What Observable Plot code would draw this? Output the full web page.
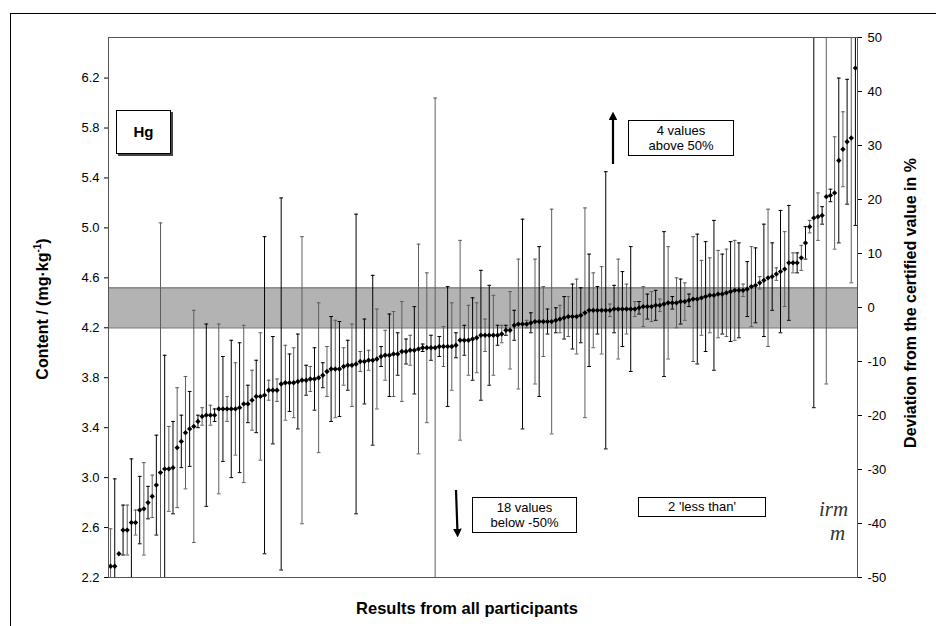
<!DOCTYPE html>
<html><head><meta charset="utf-8">
<script src="https://cdn.jsdelivr.net/npm/d3@7"></script>
<script src="https://cdn.jsdelivr.net/npm/@observablehq/plot@0.6"></script>
<style>
body{margin:0;background:#fff;font-family:"Liberation Sans",Arial,sans-serif;color:#000;}
#wrap{position:relative;width:936px;height:626px;overflow:hidden;}
#chart{position:absolute;left:0;top:0;}
#border{position:absolute;left:10px;top:13px;width:960px;height:660px;border-left:1.5px solid #000;border-top:1.5px solid #000;}
.box{position:absolute;box-sizing:border-box;border:1px solid #000;background:#fff;text-align:center;font-size:13px;line-height:15px;}
.lab{position:absolute;white-space:nowrap;font-weight:bold;font-size:16px;transform:translate(-50%,-50%);}
.rot{transform:translate(-50%,-50%) rotate(-90deg);}
#overlay{position:absolute;left:0;top:0;}
.logo{position:absolute;font-family:"Liberation Serif","DejaVu Serif",serif;font-style:italic;color:#333;font-size:21px;line-height:23.5px;}
</style></head><body>
<div id="wrap">
<div id="border"></div>
<div id="chart"></div>
<svg id="overlay" width="936" height="626">
<defs><marker id="ah" viewBox="0 0 10 10" refX="5" refY="5" markerWidth="4" markerHeight="4" orient="auto-start-reverse"><path d="M0,0 L10,5 L0,10 z" fill="#000"/></marker></defs>
<line x1="613" y1="164" x2="613" y2="116" stroke="#000" stroke-width="2.2" marker-end="url(#ah)"/>
<line x1="456" y1="490" x2="457.5" y2="533" stroke="#000" stroke-width="2.2" marker-end="url(#ah)"/>
</svg>
<div class="box" style="left:116px;top:110px;width:55px;height:44px;line-height:42px;font-weight:bold;font-size:15px;box-shadow:2px 2px 0 #444;">Hg</div>
<div class="box" style="left:628px;top:120px;width:106px;height:36px;padding-top:2px;">4 values<br>above 50%</div>
<div class="box" style="left:472px;top:497px;width:105px;height:36px;padding-top:2px;">18 values<br>below -50%</div>
<div class="box" style="left:638px;top:497px;width:128px;height:20px;line-height:17px;">2 'less than'</div>
<div class="logo" style="left:819px;top:498px;">irm<br><span style="margin-left:11px;">m</span></div>
<div class="lab rot" style="left:42px;top:309px;">Content / (mg·kg<sup style="font-size:10px;">-1</sup>)</div>
<div class="lab rot" style="left:911px;top:303px;">Deviation from the certified value in %</div>
<div class="lab" style="left:467px;top:608px;font-size:16.5px;">Results from all participants</div>
</div>
<script>
// axis limits (left axis, mg/kg) and ticks
const yMin = 2.2, yMax = 6.525;
const leftTicks = [2.2, 2.6, 3.0, 3.4, 3.8, 4.2, 4.6, 5.0, 5.4, 5.8, 6.2];
const pctTicks = [-50, -40, -30, -20, -10, 0, 10, 20, 30, 40, 50];
// certified value and its uncertainty (grey band)
const certified = 4.36, certU = 0.16;

// participant results, sorted (mg/kg)
const values = [2.29,2.29,2.39,2.58,2.58,2.64,2.64,2.74,2.75,2.80,
2.85,2.94,3.04,3.07,3.07,3.08,3.24,3.29,3.36,3.39,
3.41,3.45,3.49,3.50,3.50,3.50,3.55,3.55,3.55,3.55,
3.55,3.56,3.59,3.59,3.62,3.65,3.65,3.66,3.70,3.70,
3.70,3.75,3.76,3.76,3.76,3.77,3.78,3.78,3.79,3.79,
3.80,3.82,3.85,3.87,3.87,3.87,3.89,3.90,3.90,3.91,
3.93,3.93,3.94,3.94,3.95,3.97,3.98,3.98,3.99,3.99,
4.01,4.01,4.02,4.02,4.03,4.04,4.04,4.04,4.04,4.05,
4.05,4.05,4.05,4.06,4.10,4.10,4.10,4.11,4.12,4.14,
4.14,4.14,4.14,4.14,4.15,4.18,4.18,4.22,4.23,4.23,
4.23,4.24,4.25,4.25,4.25,4.25,4.25,4.26,4.27,4.28,
4.29,4.29,4.29,4.30,4.32,4.34,4.34,4.34,4.34,4.34,
4.34,4.35,4.35,4.35,4.35,4.35,4.35,4.36,4.37,4.37,
4.37,4.38,4.38,4.39,4.40,4.40,4.40,4.41,4.41,4.42,
4.43,4.43,4.44,4.45,4.46,4.46,4.47,4.47,4.48,4.49,
4.50,4.50,4.50,4.51,4.53,4.54,4.56,4.58,4.60,4.61,
4.63,4.65,4.67,4.72,4.72,4.72,4.76,4.88,5.01,5.08,
5.09,5.10,5.25,5.26,5.28,5.54,5.63,5.69,5.72,6.28];

// reported expanded uncertainties (mg/kg), 0 = none reported
const uncs = [0.30,0.70,0,0.20,0.20,0.51,0.10,0.27,0.37,0.13,
0.17,0.40,2.00,0.91,0.34,0.37,0.48,0.21,0.45,0.30,
0.93,0.05,0.07,0.73,0.08,0.05,0.68,0.42,0.10,0.55,
0.37,0.52,0.63,0.15,0.24,0.29,0.51,1.27,0.08,0.43,
0.09,1.49,0.30,0.23,0.28,0.38,1.15,0.12,0.10,0.25,
0.60,0.10,0.20,0.42,0.39,0.38,0.15,0.20,0.33,1.20,
0.08,0.34,0.08,0.68,0.40,0.08,0.20,0.33,0.34,0.17,
0.40,0.10,0.12,0.35,0.84,0.03,0.60,0.10,2.00,0.08,
0.16,0.48,0.35,0.10,0.80,0.12,0.28,0.33,0.28,0.52,
0.13,0.40,0.32,0.08,0.07,0.04,0.31,0.12,0.52,0.84,
0.03,0.08,0.50,0.60,0.28,0.10,0.90,0.10,0.11,0.17,
0.16,0.26,0.30,0.22,0.84,0.45,0.30,0.19,0.35,1.11,
0.05,0.19,0.40,0.30,0.20,0.50,0.06,0.05,0.16,0.10,
0.12,0.12,0.05,0.58,0.45,0.05,0.20,0.18,0.15,0.05,
0.50,0.52,0.30,0.44,0.30,0.60,0.35,0.32,0.35,0.40,
0.40,0.38,0.05,0.22,0.32,0.30,0.05,0.45,0.55,0.27,
0.05,0.49,0.30,0.46,0.08,0.08,0.10,0.13,0.05,1.52,
0.19,0.07,1.50,0.05,0.45,0.66,0.30,0.50,1.16,1.26];

const N = values.length;
const rows = values.map((v, i) => ({i, v, u: uncs[i]}));
const bars = rows.filter(d => d.u > 0).map(d => ({...d,
  lo: Math.max(d.v - d.u, yMin), hi: Math.min(d.v + d.u, yMax)}));
const caps = [];
bars.forEach(d => {
  if (d.v - d.u >= yMin) caps.push({i: d.i, y: d.v - d.u});
  if (d.v + d.u <= yMax) caps.push({i: d.i, y: d.v + d.u});
});
const even = d => d.i % 2 === 0, odd = d => d.i % 2 === 1;
const grey = "#5e5e5e";
const pctToY = p => yMin + (p + 50) / 100 * (yMax - yMin);
const yToPct = y => Math.round((y - yMin) / (yMax - yMin) * 100 - 50);

const chart = Plot.plot({
  width: 936, height: 626,
  marginLeft: 108, marginRight: 79, marginTop: 37, marginBottom: 49,
  style: {fontFamily: "'Liberation Sans', Arial, sans-serif", fontSize: "13px", background: "transparent", color: "#000"},
  x: {domain: [-0.5, N - 0.5], axis: null},
  y: {domain: [yMin, yMax], axis: null},
  marks: [
    Plot.rect([{y1: certified - certU, y2: certified + certU}], {x1: () => -0.5, x2: () => N - 0.5, y1: "y1", y2: "y2", fill: "#b3b3b3"}),
    Plot.ruleY([certified - certU, certified + certU], {stroke: "#7a7a7a", strokeWidth: 1.2}),
    Plot.ruleX(bars.filter(even), {x: "i", y1: "lo", y2: "hi", stroke: grey}),
    Plot.ruleX(bars.filter(odd), {x: "i", y1: "lo", y2: "hi", stroke: "#000"}),
    Plot.link(caps.filter(even), {x1: d => d.i - 0.45, x2: d => d.i + 0.45, y1: "y", y2: "y", stroke: grey}),
    Plot.link(caps.filter(odd), {x1: d => d.i - 0.45, x2: d => d.i + 0.45, y1: "y", y2: "y", stroke: "#000"}),
    Plot.dot(rows, {x: "i", y: "v", symbol: "diamond2", r: 2.4, fill: "#000", stroke: "none"}),
    Plot.frame({stroke: "#555"}),
    Plot.axisY(leftTicks, {anchor: "left", tickSize: 4, tickPadding: 5, tickFormat: d => d.toFixed(1), label: null, fontSize: 13}),
    Plot.axisY(pctTicks.map(pctToY), {anchor: "right", tickSize: 4, tickPadding: 6, tickFormat: y => String(yToPct(y)), label: null, fontSize: 13})
  ]
});
document.getElementById("chart").appendChild(chart);
</script>
</body></html>
